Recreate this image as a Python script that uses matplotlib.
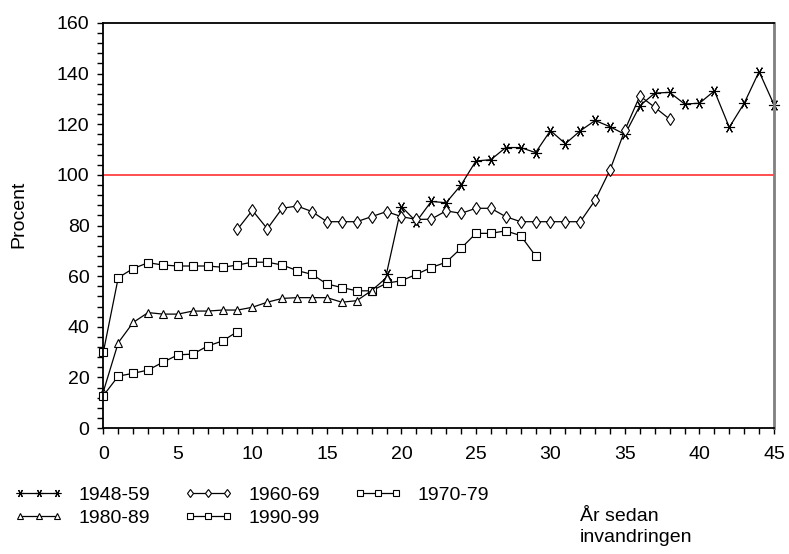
import matplotlib
matplotlib.use("Agg")
import matplotlib.pyplot as plt
from matplotlib.ticker import MultipleLocator

plt.rcParams["font.family"] = ["Liberation Sans", "DejaVu Sans"]
plt.rcParams["font.size"] = 14

# År sedan invandringen -> procent, per invandringsperiod
x_4859 = list(range(19, 46))
y_4859 = [61, 87.5, 81.5, 89.5, 89, 96, 105.5, 106, 110.8, 110.8, 108.8, 117.5,
          112.3, 117.4, 121.5, 119, 116, 127.3, 132.3, 132.6, 128, 128.3, 133.2,
          118.8, 128.3, 140.8, 127.7]

x_6069 = list(range(9, 39))
y_6069 = [78.5, 86, 78.7, 86.8, 87.7, 85.5, 81.5, 81.5, 81.5, 83.5, 85.5, 83.5,
          82.4, 82.5, 85.8, 84.8, 86.8, 86.8, 83.5, 81.5, 81.5, 81.5, 81.5, 81.5,
          90, 102, 117.8, 131.2, 126.7, 122]

x_7079 = list(range(0, 30))
y_7079 = [30, 59.4, 63, 65.3, 64.4, 64, 64, 64, 63.5, 64.4, 65.5, 65.5, 64.4,
          62.2, 60.7, 56.9, 55.5, 54.2, 54.2, 57.2, 58.2, 60.7, 63.4, 65.5, 71,
          76.9, 76.9, 77.9, 76, 68]

x_8089 = list(range(0, 20))
y_8089 = [14.4, 33.7, 41.7, 45.6, 45, 45, 46.2, 46.2, 46.6, 46.6, 47.7, 49.7,
          51.2, 51.5, 51.5, 51.5, 49.7, 50.3, 54.3, 59.4]

x_9099 = list(range(0, 10))
y_9099 = [12.8, 20.5, 21.6, 22.9, 26, 28.9, 29.2, 32.4, 34.4, 38.1]

fig = plt.figure(figsize=(7.89, 5.54), dpi=100)
ax = fig.add_axes([0.131, 0.2274, 0.850, 0.7311])

ax.axhline(100, color="#ff3030", linewidth=1.2, zorder=1)

common = dict(color="black", linewidth=0.9, markerfacecolor="white",
              markeredgecolor="black", markeredgewidth=0.8, clip_on=False)
l1, = ax.plot(x_4859, y_4859, marker=(6, 2, 90), markersize=8, label="1948-59", **common)
l2, = ax.plot(x_6069, y_6069, marker="d", markersize=6.5, label="1960-69", **common)
l3, = ax.plot(x_7079, y_7079, marker="s", markersize=6, label="1970-79", **common)
l4, = ax.plot(x_8089, y_8089, marker="^", markersize=6, label="1980-89", **common)
l5, = ax.plot(x_9099, y_9099, marker="s", markersize=5.5, label="1990-99", **common)

ax.set_xlim(0, 45)
ax.set_ylim(0, 160)
ax.xaxis.set_major_locator(MultipleLocator(5))
ax.xaxis.set_minor_locator(MultipleLocator(1))
ax.yaxis.set_major_locator(MultipleLocator(20))
ax.yaxis.set_minor_locator(MultipleLocator(4))
ax.tick_params(axis="x", which="both", direction="out", length=4, width=1, pad=9)
ax.tick_params(axis="y", which="both", direction="out", length=4, width=1, pad=6)

for side in ("left", "bottom", "top"):
    ax.spines[side].set_color("black")
    ax.spines[side].set_linewidth(1.3)
ax.spines["right"].set_color("#808080")
ax.spines["right"].set_linewidth(2)

ax.set_ylabel("Procent")
ax.yaxis.set_label_coords(-0.114, 0.528)

fig.text(0.735, 0.083, "År sedan\ninvandringen", ha="left", va="top", linespacing=1.3)

fig.legend([l1, l4, l2, l5, l3],
           ["1948-59", "1980-89", "1960-69", "1990-99", "1970-79"],
           ncol=3, loc="upper left", bbox_to_anchor=(0.018, 0.122),
           frameon=False, borderpad=0, numpoints=3, markerscale=0.7,
           handlelength=2.5, handletextpad=0.8, columnspacing=1.75,
           labelspacing=0.28, borderaxespad=0)

fig.savefig("out.png", dpi=100)
plt.close(fig)
